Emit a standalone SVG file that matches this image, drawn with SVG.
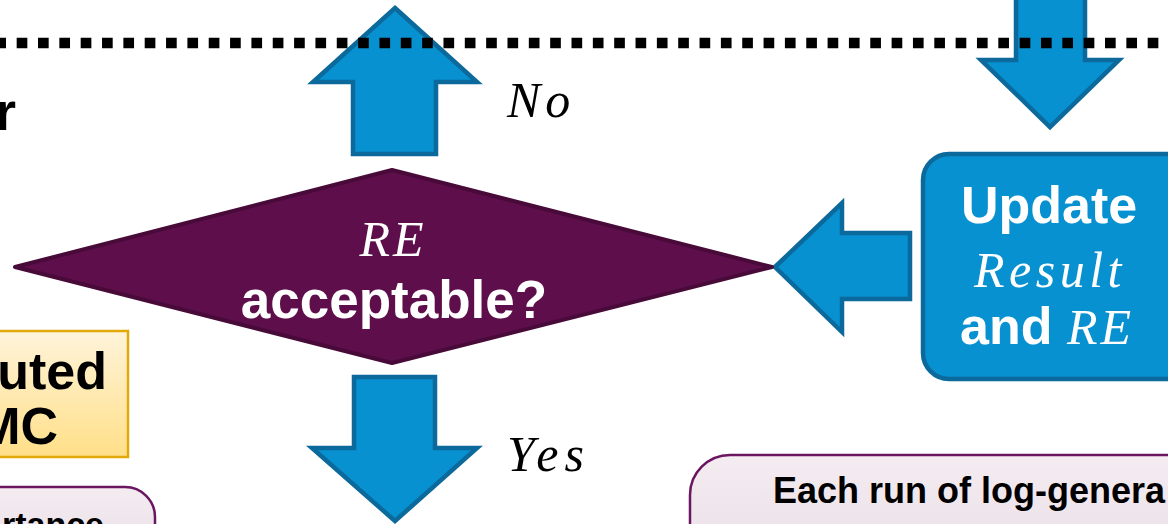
<svg xmlns="http://www.w3.org/2000/svg" width="1168" height="524" viewBox="0 0 1168 524">
  <defs>
    <linearGradient id="goldFill" x1="0" y1="0" x2="0" y2="1">
      <stop offset="0" stop-color="#FFF4DA"/>
      <stop offset="1" stop-color="#FFDF88"/>
    </linearGradient>
    <linearGradient id="noteFill" x1="0" y1="0" x2="0" y2="1">
      <stop offset="0" stop-color="#F4ECF1"/>
      <stop offset="1" stop-color="#E9DEE7"/>
    </linearGradient>
  </defs>
  <style>
    .block { fill: #0891D0; stroke: #0B6A9B; stroke-width: 4.5; stroke-linejoin: miter; }
    .bold { font-family: "Liberation Sans", Arial, sans-serif; font-weight: bold; }
    .math { font-family: "Liberation Serif", "Times New Roman", serif; font-style: italic; letter-spacing: 3px; }
    .white { fill: #FFFFFF; }
    .dark { fill: #000000; }
  </style>

  <!-- block arrows -->
  <g id="connectors">
    <path class="block" d="M395,8 L477,82 L436,82 L436,154 L353,154 L353,82 L313,82 Z"/>
    <path class="block" d="M354,377 L435,377 L435,448 L477,448 L395,521 L312,448 L354,448 Z"/>
    <path class="block" d="M775,267 L842,203 L842,233 L910,233 L910,299 L842,299 L842,332 Z"/>
    <path class="block" d="M1016,-10 L1085,-10 L1085,60 L1119,60 L1050,127 L981,60 L1016,60 Z"/>
    <text class="math dark" x="507" y="117" font-size="50" style="letter-spacing:5px">No</text>
    <text class="math dark" x="507" y="471" font-size="50" style="letter-spacing:6px">Yes</text>
  </g>

  <!-- cut-off heading on the left -->
  <g id="heading">
    <text class="bold dark" x="16" y="130" font-size="54" text-anchor="end">r</text>
  </g>

  <!-- decision -->
  <g id="decision">
    <path d="M15,267 L392,170 L772,267 L392,363 Z" fill="#5E0F4B" stroke="#480A39" stroke-width="4" stroke-linejoin="round"/>
    <text class="math white" x="393" y="256" font-size="50" text-anchor="middle">RE</text>
    <text class="bold white" x="394" y="318" font-size="53" text-anchor="middle">acceptable?</text>
  </g>

  <!-- update step -->
  <g id="update">
    <rect x="923" y="154" width="280" height="225" rx="26" fill="#0891D0" stroke="#0B6A9B" stroke-width="4.5"/>
    <text class="bold white" x="1049" y="223" font-size="52" text-anchor="middle">Update</text>
    <text class="math white" x="1050" y="287" font-size="50" text-anchor="middle" style="letter-spacing:4.5px">Result</text>
    <text x="1047" y="344" text-anchor="middle"><tspan class="bold white" font-size="52">and </tspan><tspan class="math white" font-size="50">RE</tspan></text>
  </g>

  <!-- yellow label box -->
  <g id="method">
    <rect x="-10" y="331" width="138" height="126" fill="url(#goldFill)" stroke="#E2A90B" stroke-width="2.5"/>
    <text class="bold dark" x="107" y="389" font-size="52" text-anchor="end">uted</text>
    <text class="bold dark" x="58" y="444" font-size="52" text-anchor="end">MC</text>
  </g>

  <!-- note boxes -->
  <g id="note-left">
    <rect x="-40" y="487" width="195" height="80" rx="30" fill="url(#noteFill)" stroke="#6A1660" stroke-width="2.5"/>
    <text class="bold dark" x="104" y="536" font-size="34" text-anchor="end">rtance</text>
  </g>
  <g id="note-right">
    <rect x="690" y="455" width="520" height="120" rx="40" fill="url(#noteFill)" stroke="#6A1660" stroke-width="2.5"/>
    <text class="bold dark" x="773" y="503" font-size="36">Each run of log-genera</text>
  </g>

  <!-- dotted boundary -->
  <line x1="-4.67" y1="43" x2="1172" y2="43" stroke="#000000" stroke-width="10.7" stroke-dasharray="10.67 10.67"/>
</svg>
